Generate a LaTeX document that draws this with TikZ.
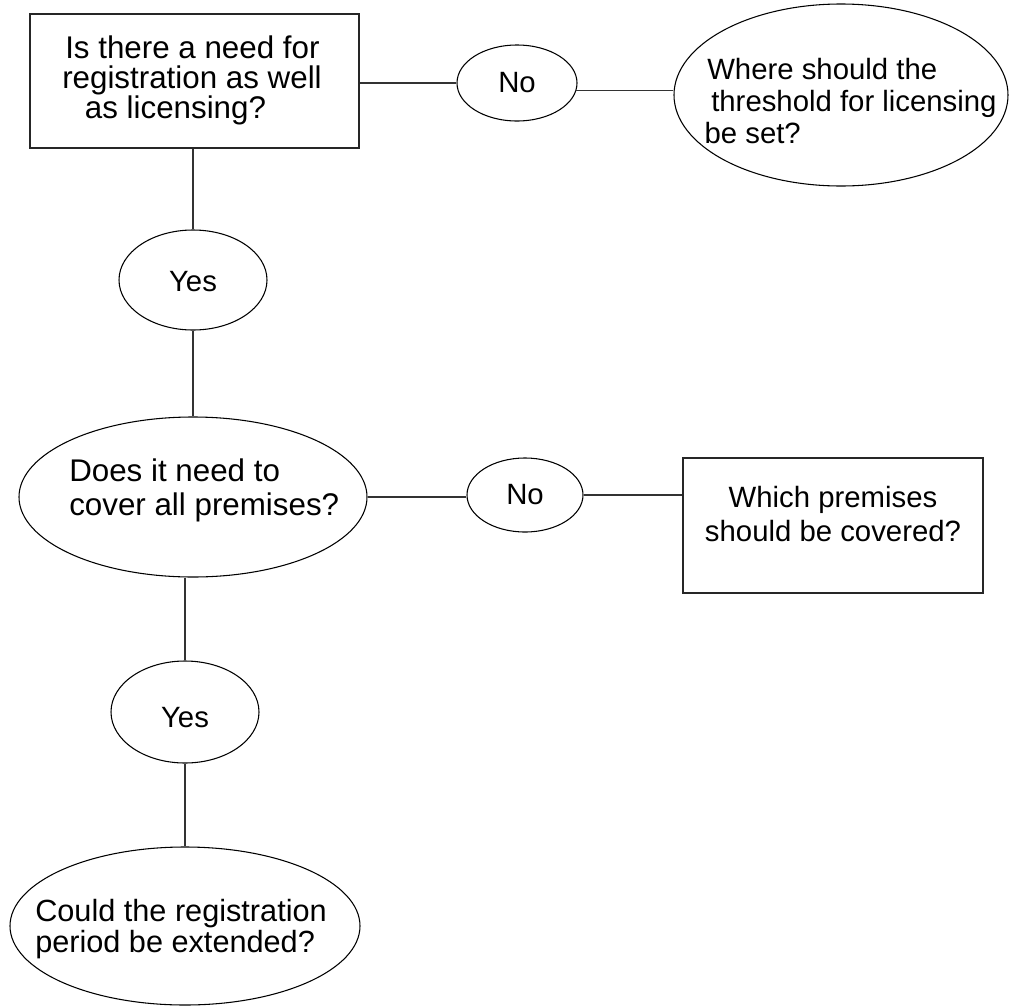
\documentclass[tikz,border=0pt]{standalone}
\usepackage{fontspec}
\setmainfont{Liberation Sans}
\usetikzlibrary{shapes.geometric}
\begin{document}
\begin{tikzpicture}[x=0.75pt,y=-0.75pt,
  every node/.style={font=\fontsize{22}{24}\selectfont},
  ell/.style={draw, ellipse, inner sep=0pt, line width=0.8pt},
  boxn/.style={draw=black!85, rectangle, inner sep=0pt, line width=0.9pt},
  txt/.style={inner sep=0pt, align=left},
  conn/.style={line width=0.8pt, draw=black!80}]
\useasboundingbox (0,0) rectangle (1011,1007);
% shapes
\node[boxn, minimum width=246.75pt, minimum height=100.5pt] (r1) at (194.5,81) {};
\node[ell, minimum width=90pt, minimum height=57pt] (no1) at (517,83) {No};
\node[ell, minimum width=250.5pt, minimum height=136.5pt] (thr) at (841,95) {};
\node[ell, minimum width=111pt, minimum height=75pt, text height=18pt] (yes1) at (193,280) {Yes};
\node[ell, minimum width=261pt, minimum height=120pt] (does) at (193,497) {};
\node[ell, minimum width=87pt, minimum height=55.5pt] (no2) at (525,495) {No};
\node[boxn, minimum width=225pt, minimum height=101.25pt] (which) at (833,525.5) {};
\node[ell, minimum width=111pt, minimum height=76.5pt, text height=24pt] (yes2) at (185,712) {Yes};
\node[ell, minimum width=262.5pt, minimum height=118.5pt] (could) at (185,926) {};
% texts
\node[txt, anchor=west, font=\fontsize{23.5}{22.5}\selectfont] (r1t) at (62,80)
  {\hspace*{2.25pt}Is there a need for\\registration as well\\\hspace*{17pt}as licensing?};
\node[txt, anchor=west, font=\fontsize{22}{24}\selectfont] (thrt) at (703,101)
  {\hspace*{3pt}Where should the\\\hspace*{6pt}threshold for licensing\\\hspace*{1pt}be set?};
\node[txt, anchor=west, font=\fontsize{23.5}{25}\selectfont] (doest) at (69,490.5)
  {Does it need to\\cover all premises?};
\node[txt, align=center, font=\fontsize{22}{25.5}\selectfont] (whicht) at (833,514)
  {Which premises\\should be covered?};
\node[txt, anchor=west, font=\fontsize{23}{23.25}\selectfont] (couldt) at (35,929.5)
  {Could the registration\\period be extended?};
% connectors
\draw[conn] (no1.west -| r1.east) -- (no1.west);
\draw[conn] (no1.-7) -- (no1.-7 -| thr.west);
\draw[conn] (yes1.north |- r1.south) -- (yes1.north);
\draw[conn] (yes1.south) -- (yes1.south |- does.north);
\draw[conn] (does.east) -- (does.east -| no2.west);
\draw[conn] (no2.east) -- (no2.east -| which.west);
\draw[conn] (yes2.north |- does.south) -- (yes2.north);
\draw[conn] (yes2.south) -- (could.north);
\end{tikzpicture}
\end{document}
